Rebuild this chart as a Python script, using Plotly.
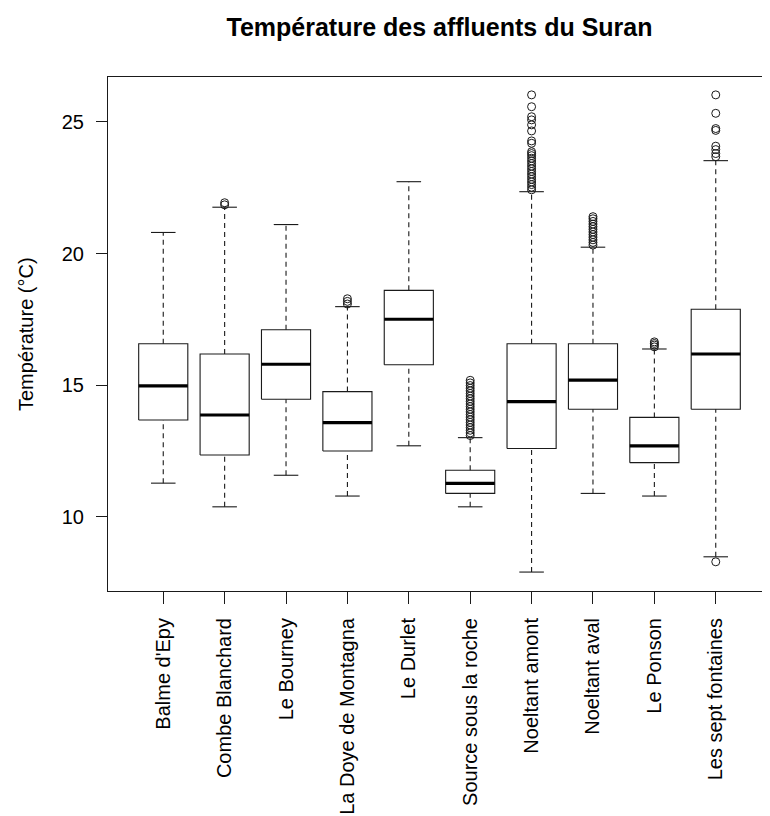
import plotly.graph_objects as go

categories = ["Balme d'Epy", "Combe Blanchard", "Le Bourney", "La Doye de Montagna",
              "Le Durlet", "Source sous la roche", "Noeltant amont", "Noeltant aval",
              "Le Ponson", "Les sept fontaines"]

whisker_low = [11.27, 10.37, 11.57, 10.78, 12.69, 10.37, 7.89, 10.88, 10.78, 8.47]
q1 = [13.67, 12.34, 14.46, 12.49, 15.77, 10.88, 12.59, 14.08, 12.05, 14.08]
medians = [14.97, 13.86, 15.79, 13.57, 17.50, 11.26, 14.37, 15.19, 12.69, 16.18]
q3 = [16.57, 16.18, 17.10, 14.75, 18.60, 11.76, 16.57, 16.57, 13.77, 17.88]
whisker_high = [20.80, 21.76, 21.10, 17.98, 22.73, 13.00, 22.35, 20.24, 16.37, 23.53]

out_balme = []
out_combe = [21.85, 21.93]
out_bourney = []
out_doye = [18.08, 18.18, 18.28]
out_durlet = []
out_source = [13.08, 13.18, 13.28, 13.38, 13.48, 13.58, 13.68, 13.78, 13.88, 13.98,
              14.08, 14.18, 14.28, 14.38, 14.48, 14.58, 14.68, 14.78, 14.88, 14.98,
              15.08, 15.18]
out_amont = [22.42, 22.52, 22.62, 22.72, 22.82, 22.92, 23.02, 23.12, 23.22, 23.32,
             23.42, 23.52, 23.62, 23.72, 23.80, 23.87, 24.19, 24.28, 24.66, 24.89,
             25.08, 25.20, 25.58, 26.03]
out_aval = [20.32, 20.42, 20.52, 20.62, 20.72, 20.82, 20.92, 21.02, 21.12, 21.22,
            21.32, 21.40]
out_ponson = [16.45, 16.52, 16.58, 16.64]
out_sept = [8.28, 23.68, 23.80, 23.95, 24.08, 24.68, 24.75, 25.33, 26.03]

outliers = [out_balme, out_combe, out_bourney, out_doye, out_durlet,
            out_source, out_amont, out_aval, out_ponson, out_sept]

HALF_BOX = 0.4
HALF_STAPLE = 0.2
INK = "#1a1a1a"
FONT = "Liberation Sans, Arial, sans-serif"

positions = list(range(1, len(categories) + 1))

box_x, box_y = [], []
med_x, med_y = [], []
wh_x, wh_y = [], []
st_x, st_y = [], []
out_x, out_y = [], []
for p, lo, a, m, b, hi, outs in zip(positions, whisker_low, q1, medians, q3, whisker_high, outliers):
    box_x += [p - HALF_BOX, p + HALF_BOX, p + HALF_BOX, p - HALF_BOX, p - HALF_BOX, None]
    box_y += [a, a, b, b, a, None]
    med_x += [p - HALF_BOX, p + HALF_BOX, None]
    med_y += [m, m, None]
    wh_x += [p, p, None, p, p, None]
    wh_y += [b, hi, None, lo, a, None]
    st_x += [p - HALF_STAPLE, p + HALF_STAPLE, None, p - HALF_STAPLE, p + HALF_STAPLE, None]
    st_y += [hi, hi, None, lo, lo, None]
    out_x += [p] * len(outs)
    out_y += outs

fig = go.Figure()
fig.add_trace(go.Scatter(x=wh_x, y=wh_y, mode="lines",
                         line=dict(color=INK, width=1.1, dash="5px,4px"),
                         hoverinfo="skip", showlegend=False))
fig.add_trace(go.Scatter(x=st_x, y=st_y, mode="lines",
                         line=dict(color=INK, width=1.1),
                         hoverinfo="skip", showlegend=False))
fig.add_trace(go.Scatter(x=box_x, y=box_y, mode="lines",
                         line=dict(color=INK, width=1.1),
                         hoverinfo="skip", showlegend=False))
fig.add_trace(go.Scatter(x=med_x, y=med_y, mode="lines",
                         line=dict(color="black", width=3.2),
                         hoverinfo="skip", showlegend=False))
fig.add_trace(go.Scatter(x=out_x, y=out_y, mode="markers",
                         marker=dict(symbol="circle-open", size=8, color=INK,
                                     line=dict(width=1, color=INK)),
                         showlegend=False))

# page body adds an 8px offset; margins compensate so plot spans page x 108..771, y 77..591
fig.update_layout(
    width=770, height=816,
    margin=dict(l=100, r=7, t=69, b=233),
    paper_bgcolor="white", plot_bgcolor="white",
    font=dict(family=FONT, size=20, color="black"),
    title=dict(text="<b>Température des affluents du Suran</b>",
               x=0.5, xref="paper", xanchor="center",
               y=1 - 19 / 816, yref="container", yanchor="middle",
               font=dict(family=FONT, size=25, color="black")),
    showlegend=False,
)
fig.update_xaxes(range=[0.1, 10.9], tickmode="array", tickvals=positions,
                 ticktext=categories, tickangle=-90, ticks="outside", ticklen=12,
                 tickcolor=INK, tickwidth=1, showline=True, mirror=True,
                 linecolor=INK, linewidth=1, showgrid=False, zeroline=False,
                 ticklabelstandoff=6, tickfont=dict(size=20))
fig.update_yaxes(range=[7.17, 26.71], tickmode="array", tickvals=[10, 15, 20, 25],
                 ticks="outside", ticklen=11, tickcolor=INK, tickwidth=1,
                 showline=True, linecolor=INK, linewidth=1, showgrid=False,
                 zeroline=False, ticklabelstandoff=8, tickfont=dict(size=20))
fig.add_annotation(text="Température (°C)", xref="paper", yref="paper",
                   x=(18 - 100) / 663, y=0.5, xanchor="center", yanchor="middle",
                   textangle=-90, showarrow=False,
                   font=dict(family=FONT, size=20, color="black"))

fig.write_html("out.html")
